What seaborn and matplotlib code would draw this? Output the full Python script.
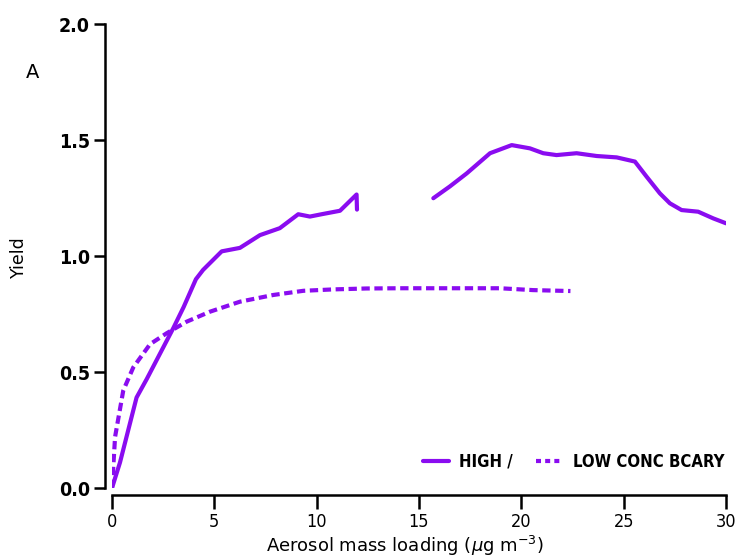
import matplotlib
matplotlib.use("Agg")
import matplotlib.pyplot as plt
import seaborn as sns
from matplotlib.lines import Line2D
from matplotlib.font_manager import FontProperties

# HIGH concentration, two segments
high1_x = [0.0, 0.39, 1.2, 1.7, 2.35, 3.0, 3.5, 4.1, 4.45, 5.36, 6.25, 7.23, 8.2, 9.1, 9.67, 10.24, 11.14, 11.95, 11.97]
high1_y = [0.0, 0.11, 0.39, 0.47, 0.58, 0.69, 0.78, 0.90, 0.94, 1.02, 1.035, 1.09, 1.12, 1.18, 1.17, 1.18, 1.195, 1.265, 1.20]
high2_x = [15.7, 16.51, 17.33, 18.47, 19.53, 20.42, 21.07, 21.72, 22.7, 23.68, 24.66, 25.55, 26.12, 26.77, 27.26, 27.83, 28.64, 29.38, 30.0]
high2_y = [1.249, 1.30, 1.356, 1.443, 1.478, 1.464, 1.443, 1.435, 1.443, 1.431, 1.425, 1.407, 1.342, 1.27, 1.227, 1.198, 1.191, 1.162, 1.141]
# LOW concentration
low_x = [0.0, 0.15, 0.55, 1.04, 1.86, 2.67, 3.65, 4.79, 6.25, 7.88, 9.35, 10.8, 12.44, 14.07, 16.5, 18.95, 20.57, 22.4]
low_y = [0.0, 0.22, 0.42, 0.52, 0.62, 0.667, 0.717, 0.76, 0.803, 0.832, 0.85, 0.856, 0.86, 0.861, 0.861, 0.861, 0.853, 0.849]

x_ticks = [0, 5, 10, 15, 20, 25, 30]
y_ticks = [0.0, 0.5, 1.0, 1.5, 2.0]
legend_labels = ["HIGH /", "LOW CONC BCARY"]

sns.set_theme(style="ticks")
plt.rcParams['font.family'] = ['DejaVu Sans']
plt.rcParams['text.color'] = 'black'
plt.rcParams['axes.labelcolor'] = 'black'

color = "#8A0CF0"
fig = plt.figure(figsize=(7.42, 5.58), dpi=100)
ax = fig.add_axes([112/742, 1-488/558, (726-112)/742, (488-24)/558])

lw = 3.0
sns.lineplot(x=high1_x, y=high1_y, ax=ax, sort=False, color=color, lw=lw, estimator=None)
sns.lineplot(x=high2_x, y=high2_y, ax=ax, sort=False, color=color, lw=lw, estimator=None)
sns.lineplot(x=low_x, y=low_y, ax=ax, sort=False, color=color, lw=lw, estimator=None,
             linestyle=(0, (2.0, 1.1)))

ax.set_xlim(0, 30)
ax.set_ylim(0, 2.0)
ax.set_xticks(x_ticks)
ax.set_xticklabels([str(t) for t in x_ticks])
ax.set_yticks(y_ticks)
ax.set_yticklabels([f"{t:.1f}" for t in y_ticks])
for s in ["top", "right"]:
    ax.spines[s].set_visible(False)
ax.spines["left"].set_position(("outward", 5))
ax.spines["bottom"].set_position(("outward", 5))
for s in ["left", "bottom"]:
    ax.spines[s].set_linewidth(1.8)
    ax.spines[s].set_color("black")
ax.tick_params(axis="y", length=8, width=1.8, pad=3, colors="black")
ax.tick_params(axis="x", length=10, width=1.8, pad=3, colors="black")

ytick_fp = FontProperties(family="DejaVu Sans", stretch="condensed", weight="bold", size=14)
xtick_fp = FontProperties(family="DejaVu Sans", stretch="condensed", weight="normal", size=13)
for lab in ax.get_yticklabels():
    lab.set_fontproperties(ytick_fp)
for lab in ax.get_xticklabels():
    lab.set_fontproperties(xtick_fp)

ax.set_ylabel("Yield", fontsize=12.5)
ax.yaxis.set_label_coords(-0.137, 0.498)
fig.text(405/742, 0.5/558, "Aerosol mass loading ($\\mu$g m$^{-3}$)", fontsize=13,
         ha="center", va="bottom")

fig.text(33/742, 1-72/558, "A", fontsize=14, ha="center", va="center")

handles = [Line2D([], [], color=color, lw=lw),
           Line2D([], [], color=color, lw=lw, linestyle=(0, (1.2, 1.0)))]
leg_fp = FontProperties(family="DejaVu Sans", stretch="condensed", weight="bold", size=12)
leg = ax.legend(handles, legend_labels, ncol=2, loc="lower right", frameon=False,
                bbox_to_anchor=(1.022, 0.005), handlelength=1.6, handletextpad=0.6,
                columnspacing=1.4, prop=leg_fp)

fig.savefig("out.png", dpi=100)
